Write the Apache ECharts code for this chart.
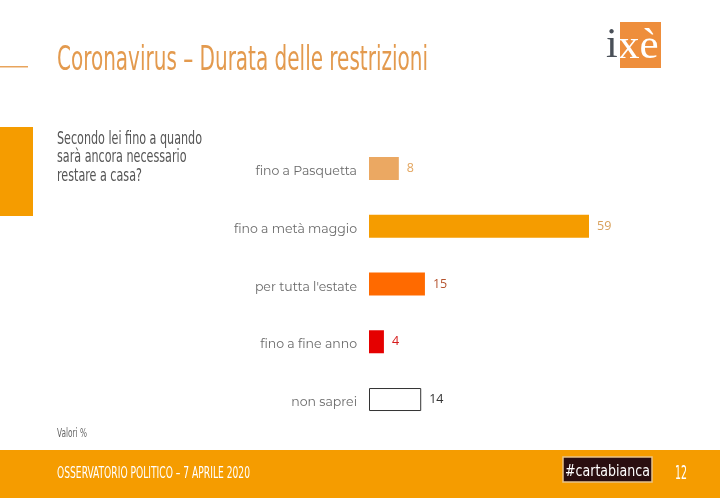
<!DOCTYPE html>
<html><head><meta charset="utf-8">
<script src="https://cdn.jsdelivr.net/npm/echarts@6/dist/echarts.min.js"></script>
<style>html,body{margin:0;padding:0;background:#fff}#c{width:720px;height:498px}</style>
</head><body><div id="c"></div>
<script>
const categories = ['fino a Pasquetta','fino a metà maggio','per tutta l\'estate','fino a fine anno','non saprei'];
const values = [8, 59, 15, 4, 14];
const barColors = ['#EBA862','#F59C00','#FF6A00','#E50000','#FFFFFF'];
const labelColors = ['#E3A55E','#D9A05A','#B5532E','#D61A1A','#333333'];
const titleText = 'Coronavirus – Durata delle restrizioni';
const questionLines = ['Secondo lei fino a quando','sarà ancora necessario','restare a casa?'];
const footerText = 'OSSERVATORIO POLITICO – 7 APRILE 2020';
const pageNum = '12';

const narrow = '"Liberation Sans Narrow","DejaVu Sans Condensed",sans-serif';
const ctx = document.createElement('canvas').getContext('2d');
function fit(text, font, w){ ctx.font = font; return w / ctx.measureText(text).width; }
const fTitle = '33px '+narrow, fQ = '17px '+narrow, fFoot = '16.5px '+narrow,
      fVal = '12px '+narrow, fCb = '15px '+narrow, fNum = '19px '+narrow;
const sQ = fit(questionLines[0], fQ, 145);

const chart = echarts.init(document.getElementById('c'));
chart.setOption({
  animation:false,
  grid:{left:369, top:139.6, width:220, height:288.8},
  xAxis:{type:'value', min:0, max:59, show:false},
  yAxis:{type:'category', data:categories, inverse:true,
    axisLine:{show:false}, axisTick:{show:false}, splitLine:{show:false},
    axisLabel:{margin:12, formatter: v => '{a|' + v + '}',
      rich:{a:{color:'#6a6a6a', fontSize:12.5, fontFamily:'Montserrat,"Open Sans",sans-serif', padding:[6,0,0,0]}}}},
  series:[{type:'bar', barWidth:23,
    data: values.map((v,i)=>({value:v,
      itemStyle:{color:barColors[i], borderColor: i===4?'#333':barColors[i], borderWidth: i===4?1:0},
      label:{color:labelColors[i]}})),
    label:{show:true, position:'right', distance:8, fontSize:12.5, fontFamily:'"Open Sans",sans-serif'}
  }],
  graphic:[
    {type:'rect', shape:{x:0,y:66,width:28,height:1.5}, style:{fill:'#E8A45C'}},
    {type:'text', x:57, y:61.5, scaleX:fit(titleText,fTitle,371), style:{text:titleText, font:fTitle, fill:'#E39A4E', textVerticalAlign:'middle'}},
    {type:'rect', shape:{x:620,y:22,width:41,height:46}, style:{fill:'#EE8E3C'}},
    {type:'text', x:606, y:67, style:{text:'i', font:'42px "Liberation Serif",serif', fill:'#4a5058', textVerticalAlign:'bottom'}},
    {type:'text', x:618, y:68, style:{text:'xè', font:'43px "Liberation Serif",serif', fill:'#fff', textVerticalAlign:'bottom'}},
    {type:'rect', shape:{x:0,y:127,width:33,height:89}, style:{fill:'#F59C00'}},
    {type:'text', x:57, y:130, scaleX:sQ, style:{text:questionLines.join('\n'), font:fQ, lineHeight:18.5, fill:'#555', textVerticalAlign:'top'}},
    {type:'text', x:57, y:434, scaleX:fit('Valori %',fVal,30), style:{text:'Valori %', font:fVal, fill:'#666', textVerticalAlign:'middle'}},
    {type:'rect', shape:{x:0,y:450,width:720,height:48}, style:{fill:'#F59C00'}},
    {type:'text', x:57, y:474, scaleX:fit(footerText,fFoot,193), style:{text:footerText, font:fFoot, fill:'#fff', textVerticalAlign:'middle'}},
    {type:'rect', shape:{x:563,y:457,width:89,height:25}, style:{fill:'#2a0e10', stroke:'#e8c48a', lineWidth:1.5}},
    {type:'text', x:607.5, y:472.5, scaleX:fit('#cartabianca',fCb,85), style:{text:'#cartabianca', font:fCb, fill:'#fff', textAlign:'center', textVerticalAlign:'middle'}},
    {type:'text', x:675, y:474, scaleX:fit(pageNum,fNum,12), style:{text:pageNum, font:fNum, fill:'#fff', textVerticalAlign:'middle'}}
  ]
});
</script></body></html>
